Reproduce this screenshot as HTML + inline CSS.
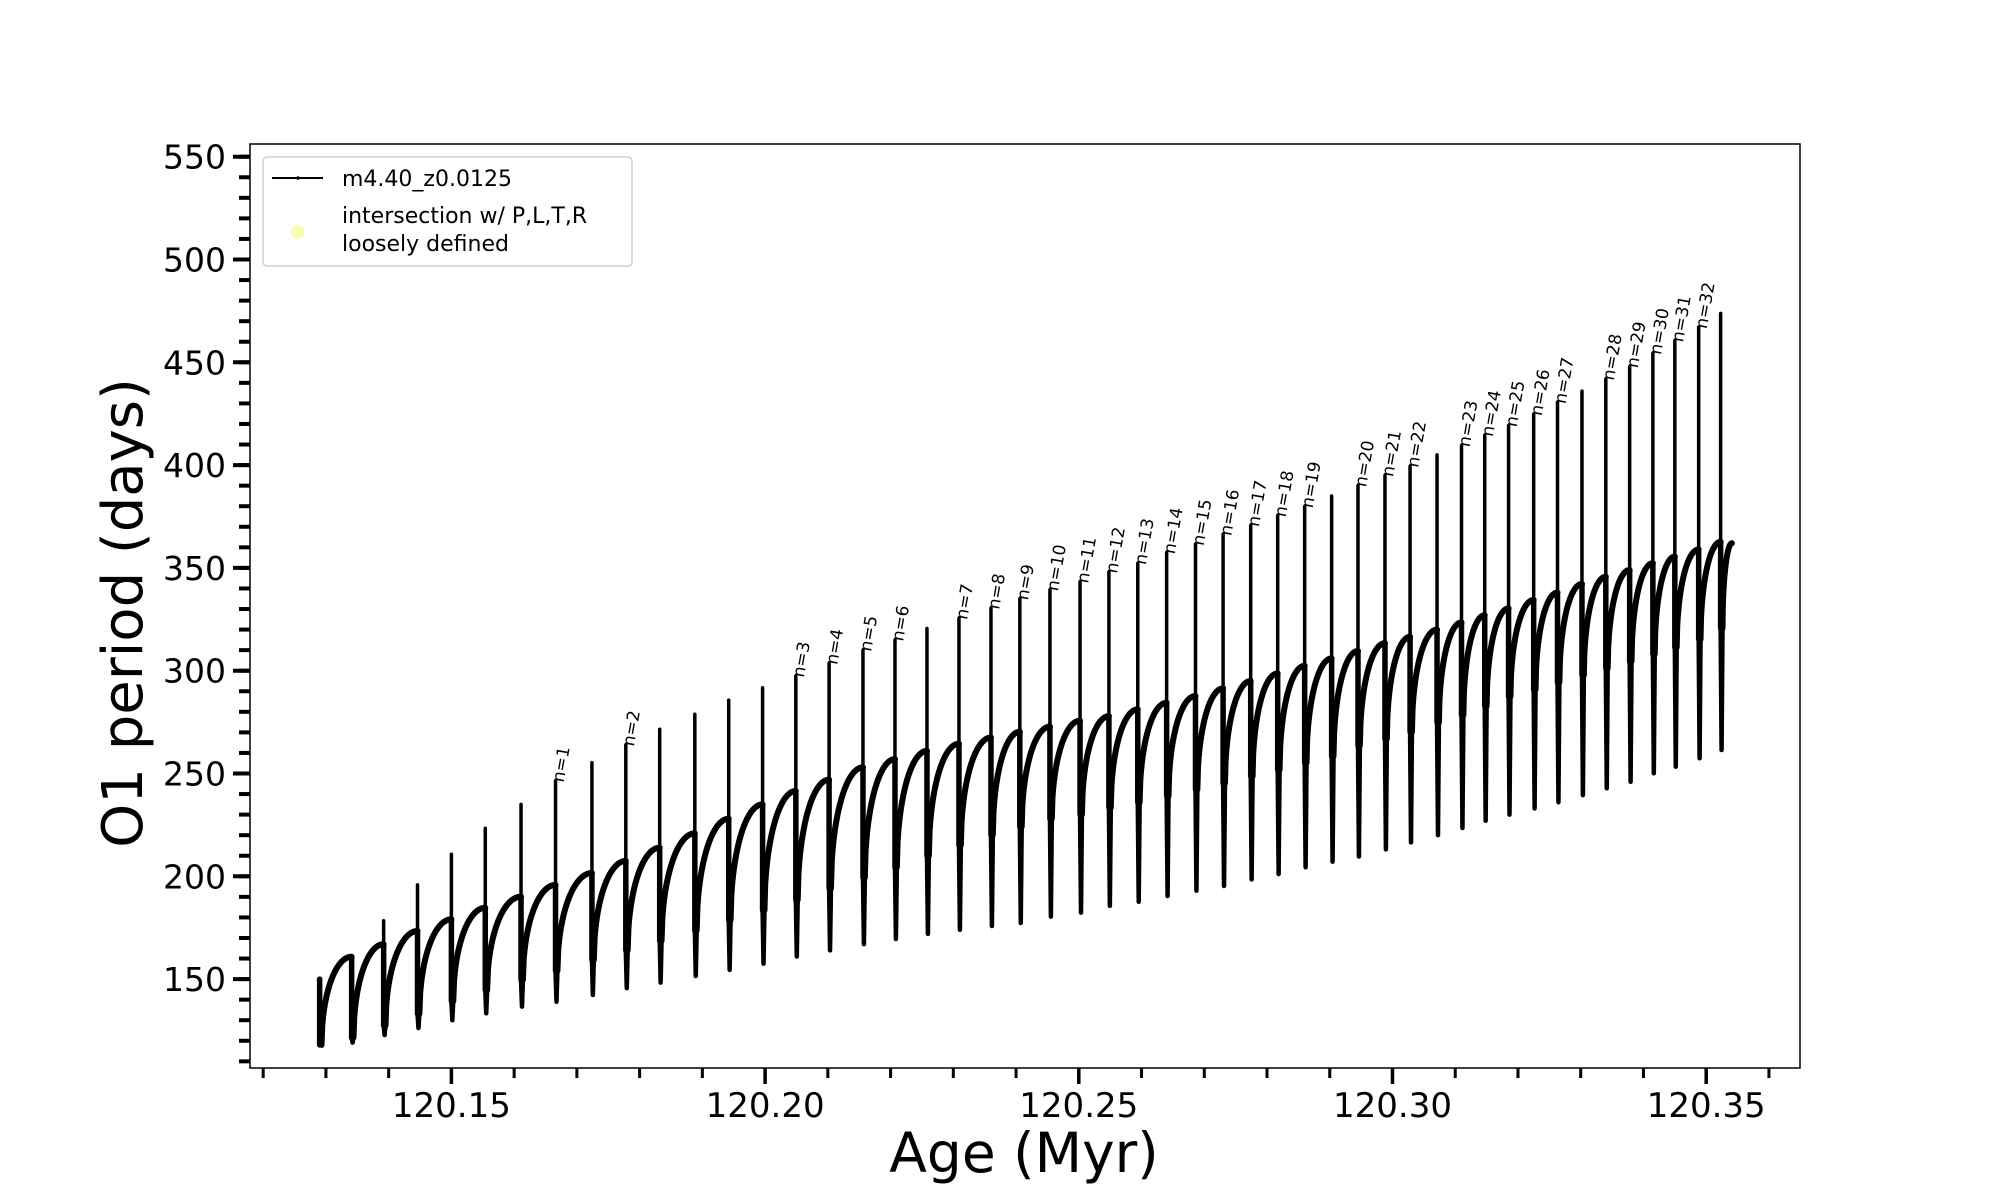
<!DOCTYPE html>
<html><head><meta charset="utf-8"><style>
html,body{margin:0;padding:0;background:#fff;}
svg{display:block;font-family:"DejaVu Sans","Liberation Sans",sans-serif;}
</style></head><body>
<svg id="chart" width="2000" height="1200" viewBox="0 0 2000 1200" xmlns="http://www.w3.org/2000/svg">
<rect x="0" y="0" width="2000" height="1200" fill="#fff"/>
<g id="series"></g>
<g id="labels"></g>
<rect x="250" y="144" width="1550" height="924" fill="none" stroke="#000" stroke-width="1.5"/>
<g id="xticks"></g>
<g id="yticks"></g>
<text x="1024" y="1172" font-size="55" text-anchor="middle">Age (Myr)</text>
<text transform="translate(142,613) rotate(-90)" font-size="56" text-anchor="middle">O1 period (days)</text>
<g>
<rect x="263" y="157" width="369" height="109" rx="4" fill="#fff" fill-opacity="0.85" stroke="#d0d0d0" stroke-width="1.5"/>
<line x1="272" y1="178" x2="323" y2="178" stroke="#000" stroke-width="2"/>
<circle cx="298" cy="178" r="1.8" fill="#000"/>
<text x="342" y="186" font-size="22">m4.40_z0.0125</text>
<circle cx="298" cy="232" r="7" fill="#fbfbb0"/>
<text x="342" y="223" font-size="22">intersection w/ P,L,T,R</text>
<text x="342" y="251" font-size="22">loosely defined</text>
</g>
</svg>
<script>
const pulseAges = [120.1290,120.1341,120.1392,120.1446,120.1500,120.1554,120.1611,120.1666,120.1724,120.1778,120.1832,120.1888,120.1942,120.1996,120.2049,120.2102,120.2156,120.2207,120.2258,120.2309,120.2360,120.2406,120.2454,120.2502,120.2548,120.2594,120.2640,120.2686,120.2730,120.2774,120.2817,120.2860,120.2903,120.2945,120.2988,120.3028,120.3071,120.3110,120.3147,120.3185,120.3225,120.3263,120.3302,120.3340,120.3378,120.3415,120.3450,120.3488,120.3523];
const plateauVals = [150,160.9,167,173.4,179.1,184.7,190.1,195.8,201.6,207.5,213.9,220.9,228,235,241.5,247,253,257,261,264.5,267.5,270.3,272.8,275.7,277.9,281.2,284.4,287.7,291.4,295,298.7,302.4,306,309.6,313.4,316.5,320,323.5,327,330.3,334.4,338,342.2,345.7,349,352.3,355.5,359,362.7];
const peakVals = [150,161,178.4,195.8,210.7,223.4,235,246.4,255.3,263.9,271.5,278.8,285.7,291.7,297.4,303.6,310,315,320.5,325.5,330.5,335,339.4,343.2,348,352.2,357.4,361.5,366.3,370.7,375.4,379.8,385,390,395,399.5,405,409.5,414.5,419.2,424.7,430.5,436,441.9,447.9,454.4,460.5,467,473.8];
const minVals = [118,119.1,122.8,126.2,130,133.4,136.6,139,142.3,145.6,148.3,151.5,154.5,157.5,161,164,167,169.5,172,174,175.8,177.3,180.4,182.3,185.6,187.6,190.4,193,195.3,198.5,201.1,204.4,207.1,209.6,213.1,216.5,220,223.5,227,230,233,236,239.5,242.8,246,250.1,253.3,257.4,261.4];
const arcStartVals = [118,121.5,127.4,133.1,139.3,144.7,149.6,154,159.3,164,168.6,173.7,178.7,183.5,188.5,194.3,199.4,204.3,209.9,215.1,220.2,224.1,228,230.1,233.4,236,239,242.2,245.2,248.6,251.8,255.2,258.4,263.6,266.9,270.3,274.9,278.4,282.8,287.4,290.8,294.4,297.9,301.2,304.5,308.1,311.4,315.3,320.6];
const endAge = 120.3541;
const endVal = 362;
const labelIdx = [7,9,14,15,16,17,19,20,21,22,23,24,25,26,27,28,29,30,31,33,34,35,37,38,39,40,41,43,44,45,46,47];
const labelText = ["n=1","n=2","n=3","n=4","n=5","n=6","n=7","n=8","n=9","n=10","n=11","n=12","n=13","n=14","n=15","n=16","n=17","n=18","n=19","n=20","n=21","n=22","n=23","n=24","n=25","n=26","n=27","n=28","n=29","n=30","n=31","n=32"];
const xTickVals = [120.15,120.20,120.25,120.30,120.35];
const xTickLabels = ["120.15","120.20","120.25","120.30","120.35"];
const yTickVals = [150,200,250,300,350,400,450,500,550];
const yTickLabels = ["150","200","250","300","350","400","450","500","550"];

const NS = "http://www.w3.org/2000/svg";
function X(a){ return 250 + (a - 120.1179) * 6274; }
function Y(v){ return 156.7 + (550 - v) * 2.056; }
function mk(tag, attrs, parent){ const e = document.createElementNS(NS, tag); for (const k in attrs) e.setAttribute(k, attrs[k]); parent.appendChild(e); return e; }

const series = document.getElementById('series');
const labels = document.getElementById('labels');
const dt = 0.0003;
const n = pulseAges.length;
for (let i = 0; i < n; i++) {
  const x = X(pulseAges[i]);
  const x2 = X(pulseAges[i] + dt);
  const P = plateauVals[i], H = peakVals[i], M = minVals[i], A = arcStartVals[i];
  const sh = mk('line', {x1:x, y1:Y(P), x2:x, y2:Y(Math.min(A, P)), stroke:'#000', 'stroke-width':5.5, 'stroke-linecap':'round'}, series);
  
  
  const sp = mk('line', {x1:x, y1:Y(A), x2:x, y2:Y(H), stroke:'#000', 'stroke-width':3.5, 'stroke-linecap':'round'}, series);
  
  
  const lo = mk('path', {d:`M${x},${Y(A)} L${(x+x2)/2},${Y(M)} L${x2},${Y(A)}`, fill:'none', stroke:'#000', 'stroke-width':4.5, 'stroke-linejoin':'round', 'stroke-linecap':'round'}, series);
  
  
  const a0 = pulseAges[i] + dt;
  const a1 = i < n - 1 ? pulseAges[i+1] : endAge;
  const v1 = i < n - 1 ? plateauVals[i+1] : endVal;
  let d = `M${X(a0)},${Y(A)}`;
  for (let k = 1; k <= 40; k++) {
    const t = k / 40;
    const f = Math.sqrt(1 - (1 - t) * (1 - t));
    d += ` L${X(a0 + (a1 - a0) * t).toFixed(2)},${Y(A + (v1 - A) * f).toFixed(2)}`;
  }
  const arc = mk('path', {d:d, fill:'none', stroke:'#000', 'stroke-width':6, 'stroke-linejoin':'round', 'stroke-linecap':'round'}, series);
  
  
}
for (let j = 0; j < labelIdx.length; j++) {
  const i = labelIdx[j];
  const x = X(pulseAges[i]) + 8, y = Y(peakVals[i]) + 2;
  const t = mk('text', {transform:`translate(${x},${y}) rotate(-80)`, 'font-size':17}, labels);
  t.textContent = labelText[j];
  
  
}
const xt = document.getElementById('xticks');
for (let a = 120.12; a <= 120.3605; a += 0.01) {
  const x = X(a);
  const tk = mk('line', {x1:x, y1:1068, x2:x, y2:1078, stroke:'#000', 'stroke-width':3}, xt);
  
  
}
for (let j = 0; j < xTickVals.length; j++) {
  const x = X(xTickVals[j]);
  const tk = mk('line', {x1:x, y1:1068, x2:x, y2:1084, stroke:'#000', 'stroke-width':3.5}, xt);
  
  
  const lb = mk('text', {x:x, y:1117, 'font-size':34, 'text-anchor':'middle'}, xt);
  lb.textContent = xTickLabels[j];
  
  
}
const yt = document.getElementById('yticks');
for (let v = 110; v <= 550.5; v += 10) {
  const y = Y(v);
  const tk = mk('line', {x1:239, y1:y, x2:250, y2:y, stroke:'#000', 'stroke-width':4}, yt);
  
  
}
for (let j = 0; j < yTickVals.length; j++) {
  const y = Y(yTickVals[j]);
  const tk = mk('line', {x1:233, y1:y, x2:250, y2:y, stroke:'#000', 'stroke-width':4}, yt);
  
  
  const lb = mk('text', {x:226, y:y + 12, 'font-size':33, 'text-anchor':'end'}, yt);
  lb.textContent = yTickLabels[j];
  
  
}
</script>
</body></html>
